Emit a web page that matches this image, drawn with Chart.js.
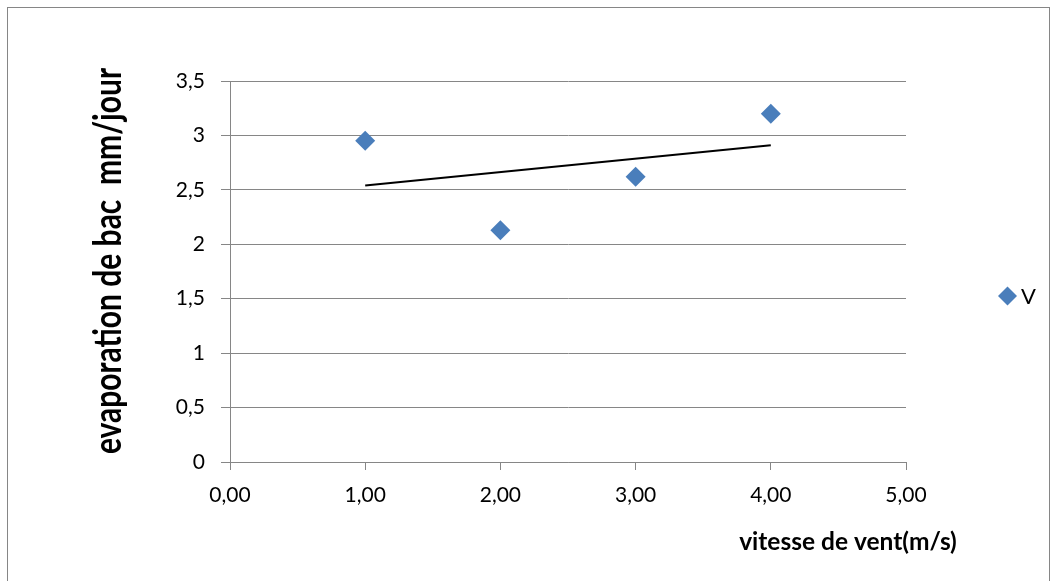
<!DOCTYPE html>
<html>
<head>
<meta charset="utf-8">
<script src="https://cdn.jsdelivr.net/npm/chart.js@4/dist/chart.umd.min.js"></script>
<style>
  html, body { margin: 0; padding: 0; background: #ffffff; }
  #wrap { width: 1056px; height: 581px; position: relative; }
</style>
</head>
<body>
<div id="wrap"><canvas id="c" width="1056" height="581"></canvas></div>
<script>
// Wind speed (m/s) and pan evaporation (mm/day)
const windSpeed = [1, 2, 3, 4];
const evaporation = [2.95, 2.13, 2.62, 3.20];

// Linear trend line endpoints
const trendX = [1, 4];
const trendY = [2.54, 2.91];

const xTickLabels = ['0,00', '1,00', '2,00', '3,00', '4,00', '5,00'];
const yTickLabels = ['0', '0,5', '1', '1,5', '2', '2,5', '3', '3,5'];

const seriesLabel = 'V';
const xTitle = 'vitesse de vent(m/s)';
const yTitle = 'evaporation de bac  mm/jour';

const FONT = 'Lato, "Open Sans", sans-serif';
const GRID = '#868686';
const BLUE = '#4A7EBB';

const decorations = {
  id: 'decorations',
  beforeDraw(chart) {
    const ctx = chart.ctx;
    ctx.save();
    ctx.fillStyle = '#ffffff';
    ctx.fillRect(0, 0, chart.width, chart.height);
    ctx.strokeStyle = GRID;
    ctx.lineWidth = 1;
    ctx.strokeRect(7.5, 7.5, 1042, 620);
    ctx.restore();
  },
  afterDraw(chart) {
    const ctx = chart.ctx;

    // y axis title, rotated, slightly widened glyphs
    ctx.save();
    ctx.fillStyle = '#000000';
    ctx.font = 'bold 30px ' + FONT;
    ctx.textAlign = 'center';
    ctx.textBaseline = 'alphabetic';
    ctx.translate(121, 261);
    ctx.scale(1.25, 1);
    ctx.rotate(-Math.PI / 2);
    ctx.fillText(yTitle, 0, 0);
    ctx.restore();

    // x axis title
    ctx.save();
    ctx.fillStyle = '#000000';
    ctx.font = 'bold 24.5px ' + FONT;
    ctx.textAlign = 'center';
    ctx.textBaseline = 'alphabetic';
    ctx.fillText(xTitle, 848, 550);

    // legend entry
    const lx = 1007.5, ly = 296, r = 9.5;
    ctx.fillStyle = BLUE;
    ctx.beginPath();
    ctx.moveTo(lx, ly - r);
    ctx.lineTo(lx + r, ly);
    ctx.lineTo(lx, ly + r);
    ctx.lineTo(lx - r, ly);
    ctx.closePath();
    ctx.fill();
    ctx.fillStyle = '#000000';
    ctx.font = '22px ' + FONT;
    ctx.textAlign = 'left';
    ctx.fillText(seriesLabel, 1021, 304);
    ctx.restore();
  }
};

new Chart(document.getElementById('c'), {
  type: 'scatter',
  data: {
    datasets: [
      {
        label: seriesLabel,
        data: windSpeed.map((x, i) => ({ x, y: evaporation[i] })),
        pointStyle: 'rectRot',
        pointRadius: 10,
        pointHoverRadius: 10,
        backgroundColor: BLUE,
        borderColor: BLUE,
        borderWidth: 0,
        showLine: false,
        order: 0
      },
      {
        label: 'trend',
        data: trendX.map((x, i) => ({ x, y: trendY[i] })),
        showLine: true,
        borderColor: '#000000',
        borderWidth: 2,
        pointRadius: 0,
        fill: false,
        order: 1
      }
    ]
  },
  options: {
    responsive: false,
    animation: false,
    events: [],
    layout: { padding: { left: 0, top: 81, right: 150, bottom: 0 } },
    plugins: {
      legend: { display: false },
      tooltip: { enabled: false },
      title: { display: false }
    },
    scales: {
      x: {
        type: 'linear',
        min: 0,
        max: 5,
        afterFit(scale) { scale.height = 119; },
        ticks: {
          stepSize: 1,
          padding: 13,
          color: '#000000',
          font: { family: FONT, size: 21 },
          callback: (v, i) => xTickLabels[i]
        },
        grid: {
          display: true,
          drawOnChartArea: false,
          drawTicks: true,
          tickLength: 8,
          color: GRID,
          lineWidth: 1
        },
        border: { display: true, color: GRID, width: 1 }
      },
      y: {
        type: 'linear',
        min: 0,
        max: 3.5,
        afterFit(scale) { scale.width = 230; },
        ticks: {
          stepSize: 0.5,
          padding: 16,
          color: '#000000',
          font: { family: FONT, size: 21 },
          callback: (v, i) => yTickLabels[i]
        },
        grid: {
          display: true,
          drawOnChartArea: true,
          drawTicks: true,
          tickLength: 9,
          color: GRID,
          lineWidth: 1
        },
        border: { display: true, color: GRID, width: 1 }
      }
    }
  },
  plugins: [decorations]
});
</script>
</body>
</html>
